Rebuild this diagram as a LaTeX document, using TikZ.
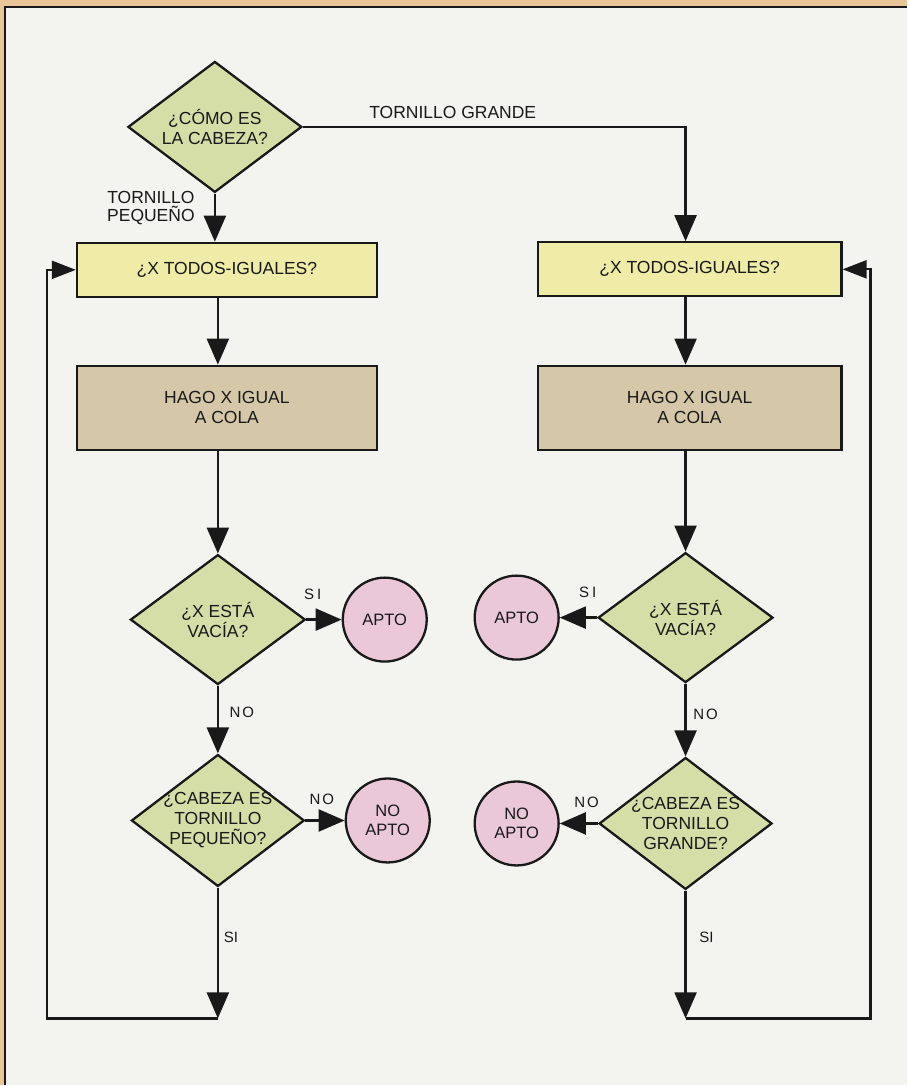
\documentclass[tikz,border=0pt]{standalone}
\usepackage{fontspec}
\setmainfont{Liberation Sans}
\usetikzlibrary{shapes.geometric,arrows.meta}
\definecolor{tanborder}{RGB}{232,198,152}
\definecolor{bgpanel}{RGB}{243,243,239}
\definecolor{yelbox}{RGB}{238,236,166}
\definecolor{greendia}{RGB}{214,222,168}
\definecolor{tanbox}{RGB}{212,200,168}
\definecolor{pinkc}{RGB}{234,200,216}
\definecolor{ink}{RGB}{25,25,25}
\newcommand\fsmain{\fontsize{17.5}{20}\selectfont}
\newcommand\fslab{\fontsize{15}{18}\selectfont}
\newcommand\fscirc{\fontsize{16.5}{19}\selectfont}
\begin{document}
\begin{tikzpicture}[x=1pt,y=-1pt,
  lw/.style={line width=2.3pt, draw=ink},
  dia/.style={shape=diamond, lw, fill=greendia, minimum width=174pt, minimum height=131pt, inner sep=0pt},
  ybox/.style={rectangle, lw, fill=yelbox, minimum width=300pt, minimum height=54pt, inner sep=0pt, font=\fsmain, text=ink},
  tbox/.style={rectangle, lw, fill=tanbox, minimum width=300pt, minimum height=84pt, inner sep=0pt, align=center, font=\fsmain, text=ink},
  endc/.style={circle, lw, fill=pinkc, minimum size=84pt, inner sep=0pt, align=center, font=\fscirc, text=ink},
  txt/.style={align=center, font=\fsmain, inner sep=0pt, text=ink},
  lbl/.style={font=\fslab, inner sep=0pt, text=ink},
  flow/.style={lw, -{Triangle[length=26pt,width=22pt]}},
  loopin/.style={lw, -{Triangle[length=24pt,width=18pt]}}
]
% frame and background
\fill[tanborder] (0,0) rectangle (908,1086);
\fill[bgpanel] (5,7) rectangle (908,1086);
\draw[line width=1.4pt, ink] (5,1086) -- (5,7) -- (908,7);
\useasboundingbox (0,0) rectangle (908,1086);

% column coordinates
\coordinate (colL) at (218,0);
\coordinate (colR) at (686,0);

% nodes
\node[dia] (d1) at (215,127) {};
\node[txt] (t1) at (d1) {¿CÓMO ES\\LA CABEZA?};

\node[ybox] (b1L) at (227,270) {¿X TODOS-IGUALES?};
\node[ybox, minimum width=304pt] (b1R) at (690,269.5) {¿X TODOS-IGUALES?};

\node[tbox] (b2L) at (227,408) {HAGO X IGUAL\\A COLA};
\node[tbox, minimum width=304pt] (b2R) at (690,408) {HAGO X IGUAL\\A COLA};

\node[dia, minimum width=175pt, minimum height=130pt] (d2L) at (218,620) {};
\node[txt] (t2L) at (d2L) {¿X ESTÁ\\VACÍA?};
\node[dia, minimum width=175pt, minimum height=130pt] (d2R) at (686,618) {};
\node[txt] (t2R) at (d2R) {¿X ESTÁ\\VACÍA?};

\node[endc] (aL) at (385,620) {APTO};
\node[endc] (aR) at (517,618) {APTO};

\node[dia, minimum width=173pt, minimum height=132pt] (d3L) at (218,821) {};
\node[txt] (t3L) at (d3L) {¿CABEZA ES\\TORNILLO\\PEQUEÑO?};
\node[dia, minimum width=173pt, minimum height=132pt] (d3R) at (686,824) {};
\node[txt] (t3R) at (d3R) {¿CABEZA ES\\TORNILLO\\GRANDE?};

\node[endc] (nL) at (388,821) {NO\\APTO};
\node[endc] (nR) at (517,824) {NO\\APTO};

% connectors
\draw[flow] (d1.south) -- (d1.south |- b1L.north);
\draw[flow] (d1.east) -| (colR |- b1R.north);

\draw[flow] (colL |- b1L.south) -- (colL |- b2L.north);
\draw[flow] (colR |- b1R.south) -- (colR |- b2R.north);

\draw[flow] (colL |- b2L.south) -- (d2L.north);
\draw[flow] (colR |- b2R.south) -- (d2R.north);

\draw[flow] (d2L.east) -- (aL.west);
\draw[flow] (d2R.west) -- (aR.east);

\draw[flow] (d2L.south) -- (d3L.north);
\draw[flow] (d2R.south) -- (d3R.north);

\draw[flow] (d3L.east) -- (nL.west);
\draw[flow] (d3R.west) -- (nR.east);

\coordinate (cornL) at (218,1019);
\coordinate (loopL) at (47,1019);
\coordinate (cornR) at (686,1019);
\coordinate (loopR) at (871,1019);
\draw[flow] (d3L.south) -- (cornL);
\draw[loopin] (cornL) -- (loopL) |- (b1L.west);
\draw[flow] (d3R.south) -- (cornR);
\draw[loopin] (cornR) -- (loopR) |- (b1R.east);

% labels
\node[txt] (lg) at (453,113) {TORNILLO GRANDE};
\node[txt, font=\fontsize{17.5}{18}\selectfont] (lp) at (151,208) {TORNILLO\\PEQUEÑO};
\node[lbl] (s2L) at (313,595) {S\kern3pt I};
\node[lbl] (n2L) at (242,713) {N\kern2pt O};
\node[lbl] (n3L) at (322,800) {N\kern2pt O};
\node[lbl] (s2R) at (588,593) {S\kern3pt I};
\node[lbl] (n2R) at (706,715) {N\kern2pt O};
\node[lbl] (n3R) at (587,803) {N\kern2pt O};
\node[lbl] (sbL) at (231,938) {SI};
\node[lbl] (sbR) at (707,938) {SI};
\end{tikzpicture}
\end{document}
